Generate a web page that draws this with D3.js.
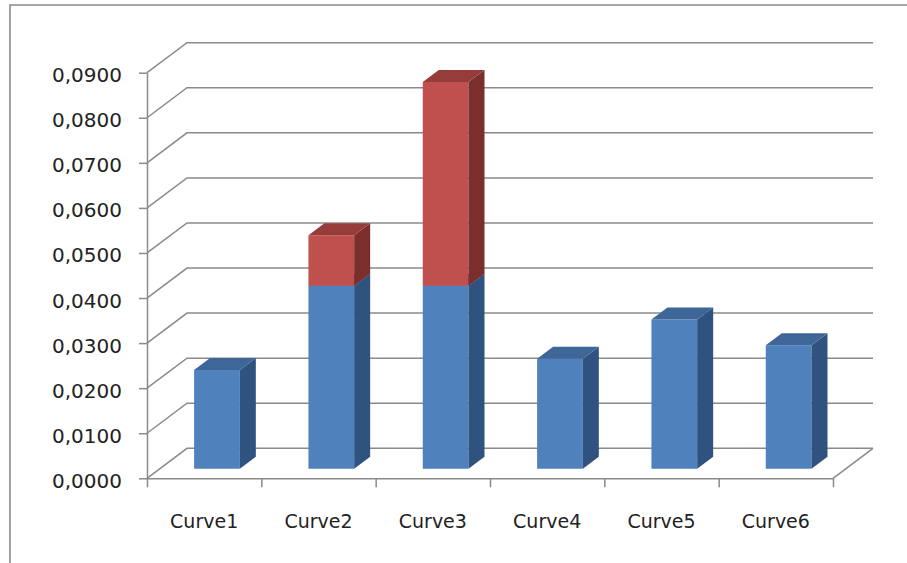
<!DOCTYPE html>
<html>
<head>
<meta charset="utf-8">
<script src="https://cdn.jsdelivr.net/npm/d3@7"></script>
<style>
  html, body { margin: 0; padding: 0; background: #ffffff; }
  svg { display: block; }
  text { font-family: "DejaVu Sans", sans-serif; fill: #222222; }
</style>
</head>
<body>
<svg id="chart" width="907" height="563"></svg>
<script>
// Categories and the two stacked series
const categories = ["Curve1", "Curve2", "Curve3", "Curve4", "Curve5", "Curve6"];
const baseValues = [0.0219, 0.0406, 0.0406, 0.0244, 0.0331, 0.0274];
const extraValues = [0, 0.0112, 0.0452, 0, 0, 0];
const yTicks = [0, 0.01, 0.02, 0.03, 0.04, 0.05, 0.06, 0.07, 0.08, 0.09];

// Face colours per series: front, side, top
const seriesColors = [
  { front: "#4f81bd", side: "#30527f", top: "#3e6699" },
  { front: "#c0504d", side: "#7b2f2d", top: "#963c3a" }
];

const W = 907, H = 563;
const svg = d3.select("#chart");

// Oblique depth projection of the plot box
const DX = 40, DY = -30;
const zFront = 0.32, zBack = 0.72;

const y = d3.scaleLinear().domain([0, 0.09]).range([478.3, 72.7]);
const x = d3.scaleBand().domain(categories).range([147, 833])
  .paddingInner(0.6).paddingOuter(0.3);
const xEdge = d3.scaleLinear().domain([0, categories.length]).range([147, 833]);

const locale = d3.formatLocale({ decimal: ",", thousands: ".", grouping: [3], currency: ["", ""] });
const fmt = locale.format(".4f");

const gridColor = "#8a8a8a";

// Outer chart border (top and left edges)
svg.append("path")
  .attr("d", `M10,${H} L10,5 L${W},5`)
  .attr("fill", "none").attr("stroke", "#8a8a8a").attr("stroke-width", 1.6);

// Side wall and back wall gridlines
const grid = svg.append("g").attr("stroke", gridColor).attr("stroke-width", 1.5).attr("fill", "none");
yTicks.forEach(v => {
  const yf = y(v);
  grid.append("path")
    .attr("d", `M147,${yf} L${147 + DX},${yf + DY} L${833 + DX},${yf + DY}`);
});
// Floor right edge
grid.append("path").attr("d", `M833,${y(0)} L${833 + DX},${y(0) + DY}`);

// Stacked data
const rows = categories.map((c, i) => ({ cat: c, base: baseValues[i], extra: extraValues[i] }));
const stacked = d3.stack().keys(["base", "extra"])(rows);

const fdx = DX * zFront, fdy = DY * zFront;
const bdx = DX * (zBack - zFront), bdy = DY * (zBack - zFront);

const barsG = svg.append("g");
categories.forEach((c, i) => {
  stacked.forEach((layer, k) => {
    const d = layer[i];
    if (d[1] - d[0] <= 0) return;
    const col = seriesColors[k];
    const xl = x(c) + fdx, xr = x(c) + x.bandwidth() + fdx;
    const yb = y(d[0]) + fdy, yt = y(d[1]) + fdy;
    const g = barsG.append("g");
    // front face
    g.append("path").attr("fill", col.front)
      .attr("d", `M${xl},${yb} L${xr},${yb} L${xr},${yt} L${xl},${yt} Z`);
    // right side face
    g.append("path").attr("fill", col.side)
      .attr("d", `M${xr},${yb} L${xr + bdx},${yb + bdy} L${xr + bdx},${yt + bdy} L${xr},${yt} Z`);
    // top face
    g.append("path").attr("fill", col.top)
      .attr("d", `M${xl},${yt} L${xr},${yt} L${xr + bdx},${yt + bdy} L${xl + bdx},${yt + bdy} Z`);
  });
});

// Vertical value axis
const yAxis = d3.axisLeft(y).tickValues(yTicks).tickFormat(fmt).tickSize(8).tickSizeOuter(0).tickPadding(17);
const yAxisG = svg.append("g").attr("transform", "translate(147,0)").call(yAxis);
yAxisG.selectAll("path, line").attr("stroke", gridColor).attr("stroke-width", 1.5);
yAxisG.selectAll("text").attr("font-size", 20).attr("dy", "0.45em")
  .style("font-family", "DejaVu Sans, sans-serif").attr("fill", "#222");

// Category axis: boundary ticks and floor front edge
const xTickAxis = d3.axisBottom(xEdge).tickValues(d3.range(categories.length + 1))
  .tickFormat("").tickSize(9).tickSizeOuter(0);
const xTickG = svg.append("g").attr("transform", `translate(0,${y(0)})`).call(xTickAxis);
xTickG.selectAll("path, line").attr("stroke", gridColor).attr("stroke-width", 1.5);

// Category labels
const xLabelAxis = d3.axisBottom(x).tickSize(0).tickPadding(36.5);
const xLabelG = svg.append("g").attr("transform", `translate(0,${y(0)})`).call(xLabelAxis);
xLabelG.select(".domain").remove();
xLabelG.selectAll("text").attr("font-size", 19)
  .style("font-family", "DejaVu Sans, sans-serif").attr("fill", "#222");
</script>
</body>
</html>
